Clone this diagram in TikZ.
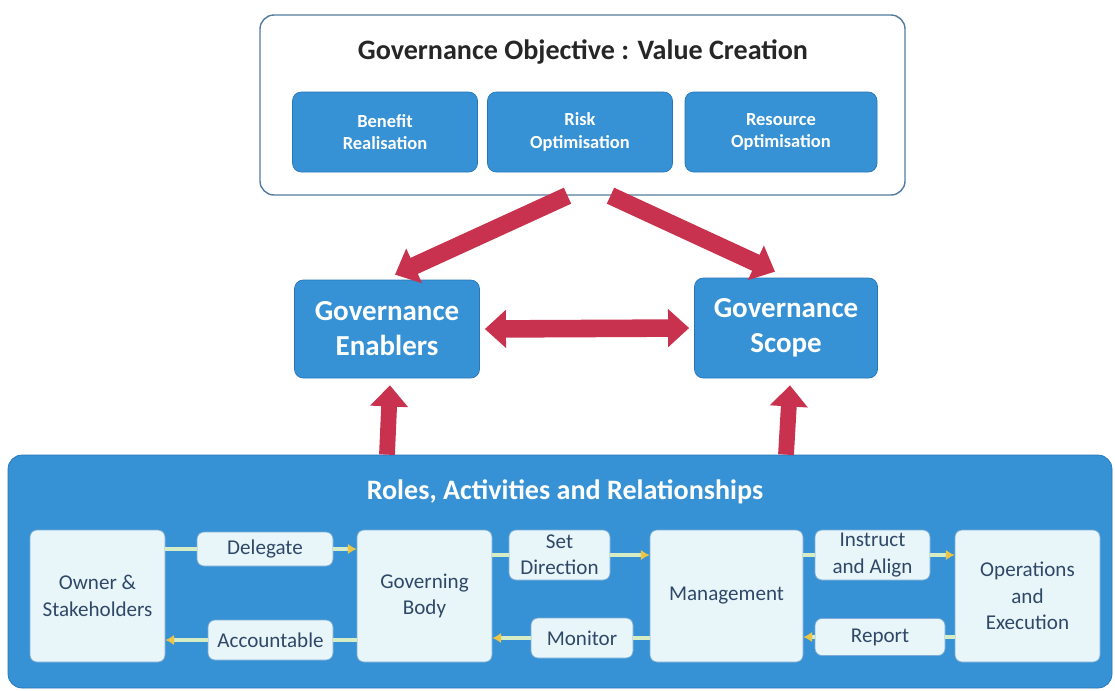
\documentclass[tikz,border=0pt]{standalone}
\usepackage{fontspec}
\setmainfont{Carlito}
\usetikzlibrary{positioning,calc,arrows.meta}
\definecolor{govblue}{RGB}{54,146,212}
\definecolor{govedge}{RGB}{38,118,186}
\definecolor{govred}{RGB}{200,50,78}
\definecolor{govpale}{RGB}{232,246,250}
\definecolor{govtext}{RGB}{48,72,104}
\definecolor{govlink}{RGB}{214,236,196}
\definecolor{govtip}{RGB}{236,196,70}

\begin{document}
\begin{tikzpicture}[x=0.02cm,y=-0.02cm,
  bluebox/.style={draw=govedge,fill=govblue,rounded corners=5pt,text=white,font=\bfseries,align=center,inner sep=0pt},
  palebox/.style={draw=govedge!60,fill=govpale,rounded corners=4pt,text=govtext,align=center,inner sep=0pt,font=\fontsize{12}{15}\selectfont},
  bigarrow/.style={govred,line width=10pt,-{Triangle[width=21pt,length=12pt]}},
  link/.style={govlink,line width=2.6pt},
  linkhead/.style={link,-{Latex[length=5pt,width=6pt,fill=govtip,govtip]}}]
\useasboundingbox (0,0) rectangle (1115,690);

% objective
\node[draw=govedge!50!gray,fill=white,rounded corners=8pt,line width=0.8pt,minimum width=645*0.02cm,minimum height=180*0.02cm] (objective) at (582.5,105) {};
\node[text=black!85,font=\fontsize{16}{18}\selectfont\bfseries] (title) at (583,52) {Governance Objective : Value Creation};
\node[bluebox,minimum width=185*0.02cm,minimum height=80*0.02cm,font=\fontsize{10.5}{13}\selectfont\bfseries] (benefit) at (385,132) {Benefit\\Realisation};
\node[bluebox,minimum width=185*0.02cm,minimum height=80*0.02cm,font=\fontsize{10.5}{13}\selectfont\bfseries] (risk) at (580,132) {Risk\\Optimisation};
\node[bluebox,minimum width=192*0.02cm,minimum height=80*0.02cm,font=\fontsize{10.5}{13}\selectfont\bfseries] (resource) at (781,132) {Resource\\Optimisation};

% enablers and scope
\node[bluebox,minimum width=185*0.02cm,minimum height=98*0.02cm,font=\fontsize{16.5}{20}\selectfont\bfseries] (enablers) at (387,329) {Governance\\Enablers};
\node[bluebox,minimum width=183*0.02cm,minimum height=100*0.02cm,font=\fontsize{16.5}{20}\selectfont\bfseries] (scope) at (786,328) {Governance\\Scope};

% roles
\node[bluebox,rounded corners=8pt,minimum width=1104*0.02cm,minimum height=233*0.02cm] (roles) at (560,571.5) {};
\node[text=white,font=\fontsize{16}{18}\selectfont\bfseries] (rolestitle) at (565,492) {Roles, Activities and Relationships};

\node[palebox,minimum width=135*0.02cm,minimum height=132*0.02cm] (owner) at (97.5,596) {Owner \&\\Stakeholders};
\node[palebox,minimum width=136*0.02cm,minimum height=34*0.02cm] (delegate) at (265,549) {Delegate};
\node[palebox,minimum width=125*0.02cm,minimum height=40*0.02cm] (accountable) at (270.5,640) {Accountable};
\node[palebox,minimum width=135*0.02cm,minimum height=132*0.02cm] (governing) at (424.5,596) {Governing\\Body};
\node[palebox,minimum width=101*0.02cm,minimum height=50*0.02cm] (setdir) at (559.5,555) {Set\\Direction};
\node[palebox,minimum width=102*0.02cm,minimum height=40*0.02cm] (monitor) at (582,638) {Monitor};
\node[palebox,minimum width=153*0.02cm,minimum height=132*0.02cm] (management) at (726.5,596) {Management};
\node[palebox,minimum width=115*0.02cm,minimum height=50*0.02cm] (instruct) at (872.5,555) {Instruct\\and Align};
\node[palebox,minimum width=130*0.02cm,minimum height=37*0.02cm] (report) at (880,637) {Report};
\node[palebox,minimum width=145*0.02cm,minimum height=132*0.02cm] (operations) at (1027.5,596) {Operations\\and\\Execution};

% downward links
\foreach \a/\b/\c in {owner/delegate/governing,governing/setdir/management,management/instruct/operations} {
  \draw[link] (\b.west -| \a.east) -- (\b.west);
  \draw[linkhead] (\b.east) -- (\b.east -| \c.west);
}
% upward links
\foreach \a/\b/\c in {owner/accountable/governing,governing/monitor/management,management/report/operations} {
  \draw[link] (\b.east) -- (\b.east -| \c.west);
  \draw[linkhead] (\b.west) -- (\b.west -| \a.east);
}

% red arrows
\draw[bigarrow] ($(objective.south)+(-15,0)$) -- ($(enablers.north)+(8,-5)$);
\draw[bigarrow] ($(objective.south)+(28,0)$) -- ($(scope.north)+(-11,-6)$);
\draw[bigarrow,{Triangle[width=21pt,length=12pt]}-{Triangle[width=21pt,length=12pt]}] ($(enablers.east)+(5,0)$) -- ($(scope.west)+(-5,0)$);
\draw[bigarrow,line width=9pt] (roles.north -| enablers.south) -- ($(enablers.south)+(3,7)$);
\draw[bigarrow,line width=9pt] (roles.north -| scope.south) -- ($(scope.south)+(4,7)$);
\end{tikzpicture}
\end{document}
